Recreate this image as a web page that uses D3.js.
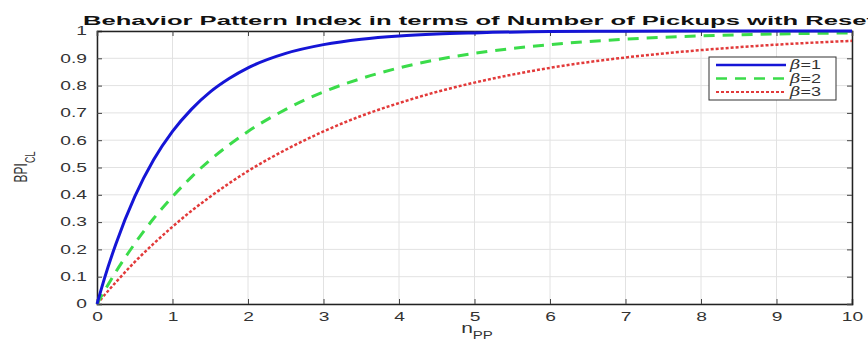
<!DOCTYPE html>
<html>
<head>
<meta charset="utf-8">
<script src="https://cdn.jsdelivr.net/npm/d3@7"></script>
<style>
  body { margin: 0; background: #fff; }
  text { font-family: "Liberation Sans", Arial, sans-serif; }
</style>
</head>
<body>
<div id="chart"></div>
<script>
// values
var nPP = [0, 0.1, 0.25, 0.5, 0.75, 1, 1.25, 1.5, 1.75, 2, 2.5, 3, 3.5, 4, 4.5, 5, 6, 7, 8, 9, 10];
var beta1 = [0, 0.095, 0.22, 0.393, 0.528, 0.632, 0.713, 0.777, 0.826, 0.865, 0.918, 0.95, 0.97, 0.982, 0.989, 0.993, 0.998, 0.999, 1, 1, 1];
var beta2 = [0, 0.049, 0.118, 0.221, 0.313, 0.393, 0.465, 0.528, 0.583, 0.632, 0.713, 0.777, 0.826, 0.865, 0.895, 0.918, 0.95, 0.97, 0.982, 0.989, 0.993];
var beta3 = [0, 0.033, 0.08, 0.154, 0.221, 0.283, 0.341, 0.393, 0.442, 0.487, 0.565, 0.632, 0.689, 0.736, 0.777, 0.811, 0.865, 0.903, 0.93, 0.95, 0.964];
var seriesNames = ["1", "2", "3"];
var xTicks = [0, 1, 2, 3, 4, 5, 6, 7, 8, 9, 10];
var yTicks = [0, 0.1, 0.2, 0.3, 0.4, 0.5, 0.6, 0.7, 0.8, 0.9, 1];

var margin = {top: 31, right: 16, bottom: 36, left: 97},
    width = 868 - margin.left - margin.right,
    height = 340 - margin.top - margin.bottom;

// the source picture is stretched sideways, so widen texts the same way
function stretch(sel, k) {
  sel.each(function() {
    var w = this.getComputedTextLength();
    d3.select(this)
      .attr("textLength", w * k)
      .attr("lengthAdjust", "spacingAndGlyphs");
  });
}

var root = d3.select("#chart")
  .append("svg")
    .attr("width", 868)
    .attr("height", 340);

var svg = root.append("g")
    .attr("transform", "translate(" + margin.left + "," + margin.top + ")");

var x = d3.scaleLinear()
  .domain([0, 10])
  .range([0, width]);

var y = d3.scaleLinear()
  .domain([0, 1])
  .range([height, 0]);

// grid
svg.append("g")
  .selectAll("line")
  .data(xTicks)
  .enter()
  .append("line")
    .attr("x1", function(d) { return x(d); })
    .attr("x2", function(d) { return x(d); })
    .attr("y1", 0)
    .attr("y2", height)
    .attr("stroke", "#e2e2e2")
    .attr("stroke-width", 1);

svg.append("g")
  .selectAll("line")
  .data(yTicks)
  .enter()
  .append("line")
    .attr("x1", 0)
    .attr("x2", width)
    .attr("y1", function(d) { return y(d); })
    .attr("y2", function(d) { return y(d); })
    .attr("stroke", "#e2e2e2")
    .attr("stroke-width", 1);

// axes, MATLAB style with inward ticks
svg.append("g")
  .attr("transform", "translate(0," + height + ")")
  .call(d3.axisBottom(x).tickValues(xTicks).tickSize(-5).tickPadding(8).tickFormat(d3.format("d")));

svg.append("g")
  .call(d3.axisLeft(y).tickValues(yTicks).tickSize(-5).tickPadding(10).tickFormat(function(d) { return d === 0 || d === 1 ? d : d3.format(".1f")(d); }));

svg.append("g")
  .attr("transform", "translate(" + width + ",0)")
  .call(d3.axisRight(y).tickValues(yTicks).tickSize(-5).tickFormat(""));

svg.append("g")
  .call(d3.axisTop(x).tickValues(xTicks).tickSize(-5).tickFormat(""));

svg.selectAll(".domain").attr("stroke", "#222").attr("stroke-width", 1.5);
svg.selectAll(".tick line").attr("stroke", "#444");
svg.selectAll(".tick text")
  .attr("font-size", 12)
  .attr("fill", "#333")
  .attr("font-family", "'Liberation Sans', Arial, sans-serif")
  .call(stretch, 1.6);

// curves
var series = [
  {name: seriesNames[0], values: beta1, color: "#1515d6", width: 3, dash: null},
  {name: seriesNames[1], values: beta2, color: "#3bdc4a", width: 3, dash: "11,8"},
  {name: seriesNames[2], values: beta3, color: "#e23a3a", width: 2.5, dash: "3,2"}
];

var line = d3.line()
  .x(function(d) { return x(d[0]); })
  .y(function(d) { return y(d[1]); })
  .curve(d3.curveMonotoneX);

svg.append("g")
  .selectAll("path")
  .data(series.slice().reverse())
  .enter()
  .append("path")
    .attr("d", function(s) { return line(nPP.map(function(n, i) { return [n, s.values[i]]; })); })
    .attr("fill", "none")
    .attr("stroke", function(s) { return s.color; })
    .attr("stroke-width", function(s) { return s.width; })
    .attr("stroke-dasharray", function(s) { return s.dash; })
    .attr("stroke-linejoin", "round");

// legend
var legend = root.append("g")
  .attr("transform", "translate(709,57)");

legend.append("rect")
  .attr("width", 127)
  .attr("height", 43)
  .attr("fill", "#fff")
  .attr("stroke", "#333")
  .attr("stroke-width", 1);

series.forEach(function(s, i) {
  var ly = 8 + i * 13.5;
  legend.append("line")
    .attr("x1", 7)
    .attr("x2", 77)
    .attr("y1", ly)
    .attr("y2", ly)
    .attr("stroke", s.color)
    .attr("stroke-width", s.width - 0.5)
    .attr("stroke-dasharray", s.dash);
  var t = legend.append("text")
    .attr("x", 81)
    .attr("y", ly + 4)
    .attr("font-size", 12)
    .attr("fill", "#333");
  t.append("tspan").attr("font-style", "italic").attr("font-family", "'DejaVu Serif', serif").text("β");
  t.append("tspan").text("=" + s.name);
  t.call(stretch, 1.5);
});

// title
root.append("text")
  .attr("x", 83)
  .attr("y", 25)
  .attr("font-size", 13)
  .attr("font-weight", "bold")
  .attr("fill", "#111")
  .attr("textLength", 792)
  .attr("lengthAdjust", "spacingAndGlyphs")
  .text("Behavior Pattern Index in terms of Number of Pickups with Reset");

// axis labels
var yl = root.append("text")
  .attr("transform", "translate(27,167) scale(1.6,1) rotate(-90)")
  .attr("text-anchor", "middle")
  .attr("font-size", 12)
  .attr("fill", "#333");
yl.append("tspan").text("BPI");
yl.append("tspan").attr("baseline-shift", "sub").attr("font-size", 9).text("CL");

var xl = root.append("text")
  .attr("x", 477)
  .attr("y", 333)
  .attr("text-anchor", "middle")
  .attr("font-size", 14)
  .attr("fill", "#333");
xl.append("tspan").text("n");
xl.append("tspan").attr("baseline-shift", "sub").attr("font-size", 10).text("PP");
xl.call(stretch, 1.5);
</script>
</body>
</html>
